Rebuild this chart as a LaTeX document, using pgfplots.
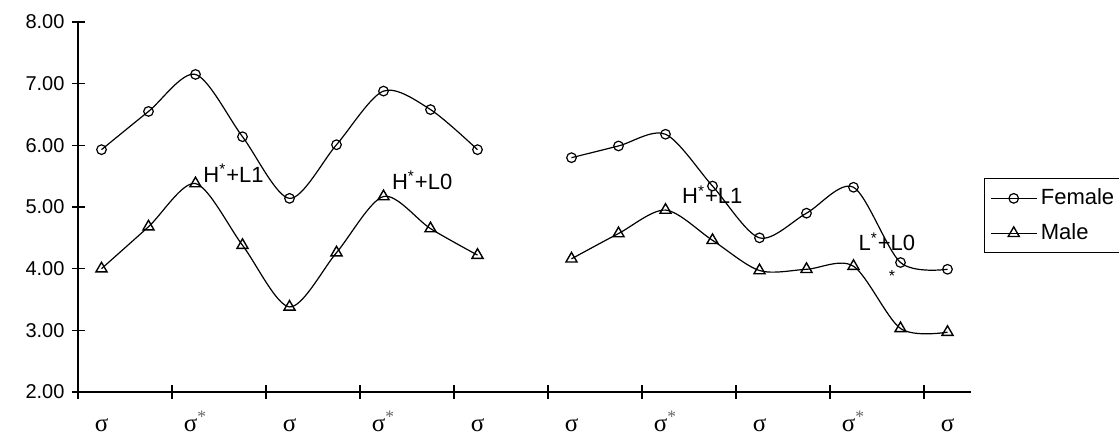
\documentclass[border=0pt]{standalone}
\usepackage{pgfplots}
\pgfplotsset{compat=1.18}
\usepackage{fontspec}
\setmainfont{Liberation Sans}
\newfontfamily\serifsym{Liberation Serif}
\newcommand{\sig}{{\serifsym\fontsize{12.5}{14}\selectfont σ}}
\newcommand{\sigs}{{\serifsym\fontsize{12.5}{14}\selectfont σ\textsuperscript{\color{black!60}*}}}
\begin{document}
\begin{tikzpicture}
\begin{axis}[
  at={(39pt,21.5pt)}, anchor=south west,
  scale only axis, width=446.5pt, height=185pt,
  xmin=-0.5, xmax=18.5, ymin=2, ymax=8,
  axis lines*=left,
  axis line style={line width=0.6pt},
  tick align=center,
  ytick={2,3,4,5,6,7,8},
  yticklabel style={/pgf/number format/fixed,/pgf/number format/fixed zerofill,/pgf/number format/precision=2,
    font=\fontsize{10}{12}\selectfont},
  /pgf/number format/assume math mode=true,
  major tick length=6.5pt,
  minor tick length=7pt,
  tick style={black, line width=0.6pt},
  xtick={0,2,...,18},
  xticklabels={\sig,\sigs,\sig,\sigs,\sig,\sig,\sigs,\sig,\sigs,\sig},
  major x tick style={draw=none},
  minor xtick={-0.5,1.5,...,17.5},
  xticklabel style={anchor=base, inner sep=0pt, text depth=0pt, yshift=-16.3pt},
  legend style={at={(1.0146,0.5776)}, anchor=north west, draw=black, line width=0.6pt,
    font=\fontsize{11}{13}\selectfont, inner xsep=3pt, inner ysep=3pt, row sep=4pt,
    cells={anchor=west}},
  legend image code/.code={\draw[#1, mark repeat=2, mark phase=2] plot coordinates {(0pt,0pt) (11.25pt,0pt) (22.5pt,0pt)};},
  every axis plot/.append style={black, line width=0.6pt, smooth, tension=0.5},
  clip=false,
]
\addplot[mark=o, mark size=2.4pt, mark options={fill=white, solid}] coordinates {
(0,5.93) (1,6.55) (2,7.15) (3,6.14) (4,5.14) (5,6.01) (6,6.88) (7,6.58) (8,5.93)};
\addlegendentry{Female}
\addplot[mark=o, mark size=2.4pt, mark options={fill=white, solid}, forget plot] coordinates {
(10,5.80) (11,5.99) (12,6.18) (13,5.34) (14,4.50) (15,4.90) (16,5.32) (17,4.10) (18,3.99)};
\addplot[mark=triangle, mark size=3.2pt, mark options={fill=white, solid, line width=0.7pt}] coordinates {
(0,4.00) (1,4.68) (2,5.38) (3,4.38) (4,3.38) (5,4.26) (6,5.17) (7,4.65) (8,4.22)};
\addlegendentry{Male}
\addplot[mark=triangle, mark size=3.2pt, mark options={fill=white, solid, line width=0.7pt}, forget plot] coordinates {
(10,4.16) (11,4.57) (12,4.95) (13,4.46) (14,3.97) (15,3.99) (16,4.04) (17,3.03) (18,2.97)};
\node[anchor=base west, inner sep=0pt, font=\fontsize{11}{13}\selectfont] at (axis cs:2.16,5.394) {H\textsuperscript{*}+L1};
\node[anchor=base west, inner sep=0pt, font=\fontsize{11}{13}\selectfont] at (axis cs:6.174,5.287) {H\textsuperscript{*}+L0};
\node[anchor=base west, inner sep=0pt, font=\fontsize{11}{13}\selectfont] at (axis cs:12.345,5.049) {H\textsuperscript{*}+L1};
\node[anchor=base west, inner sep=0pt, font=\fontsize{11}{13}\selectfont] at (axis cs:16.10,4.287) {L\textsuperscript{*}+L0};
\node[anchor=center, inner sep=0pt, font=\fontsize{8}{9}\selectfont] at (axis cs:16.82,3.88) {*};
\end{axis}
\pgfresetboundingbox
\useasboundingbox (0,0) rectangle (559.5pt,217.5pt);
\end{tikzpicture}
\end{document}
